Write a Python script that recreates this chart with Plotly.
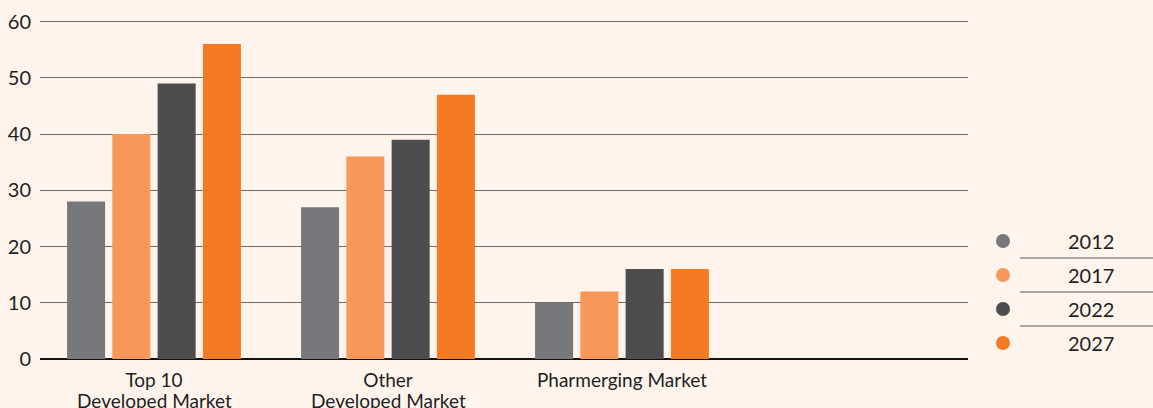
import plotly.graph_objects as go

categories = ["Top 10", "Other", "Pharmerging Market", " "]
subtitles = ["Developed Market", "Developed Market", "", ""]
years = ["2012", "2017", "2022", "2027"]
values = {
    "2012": [28, 27, 10],
    "2017": [40, 36, 12],
    "2022": [49, 39, 16],
    "2027": [56, 47, 16],
}
colors = ["#77787B", "#F79858", "#4D4D4F", "#F47B23"]
y_ticks = [0, 10, 20, 30, 40, 50, 60]

BG = "#FEF4EC"
FONT = "Lato, Roboto, sans-serif"
TXT = "#1e1e1e"
W, H = 1153, 408
L, R, T, B = 40, W - 968, 16, 49
PW, PH = W - L - R, H - T - B
CAT_PX = 234
x0 = -0.5 + 3 / CAT_PX

fig = go.Figure()
for yr, col in zip(years, colors):
    fig.add_trace(go.Bar(x=categories[:3], y=values[yr], name=yr,
                         marker=dict(color=col, line=dict(width=0)),
                         showlegend=False))

fig.update_layout(
    width=W, height=H,
    paper_bgcolor=BG, plot_bgcolor=BG,
    margin=dict(l=L, r=R, t=T, b=B, autoexpand=False),
    barmode="group", bargap=0.226, bargroupgap=0.16,
    font=dict(family=FONT, color=TXT),
    xaxis=dict(categoryorder="array", categoryarray=categories,
               range=[x0, x0 + PW / CAT_PX], showgrid=False, ticks="",
               tickfont=dict(size=19, color=TXT), showline=False,
               automargin=False, ticklabelstandoff=8),
    yaxis=dict(range=[0, 61], tickvals=y_ticks, showgrid=True,
               gridcolor="#6f6a68", gridwidth=1, zeroline=True,
               zerolinecolor="#111111", zerolinewidth=2,
               tickfont=dict(size=20, color=TXT), ticks="",
               ticklabelstandoff=8, layer="below traces", automargin=False),
)

def px_to_paper_x(px):
    return (px - L) / PW

def px_to_paper_y(py):
    return (H - py - B) / PH

# second line of category labels
for cat, sub in zip(categories, subtitles):
    if sub:
        fig.add_annotation(xref="x", yref="paper", x=cat, y=px_to_paper_y(400),
                           text=sub, showarrow=False, xanchor="center", yanchor="middle",
                           font=dict(size=19, color=TXT, family=FONT))

# custom legend
row_y = [241, 275, 309, 343]
for i, (yr, col) in enumerate(zip(years, colors)):
    fig.add_shape(type="circle", xref="paper", yref="paper",
                  x0=px_to_paper_x(996), x1=px_to_paper_x(1010),
                  y0=px_to_paper_y(row_y[i] + 7), y1=px_to_paper_y(row_y[i] - 7),
                  fillcolor=col, line=dict(width=0))
    fig.add_annotation(xref="paper", yref="paper",
                       x=px_to_paper_x(1091), y=px_to_paper_y(row_y[i]),
                       text=yr, showarrow=False, xanchor="center", yanchor="middle",
                       font=dict(size=20, color=TXT, family=FONT))
    if i < 3:
        ly = px_to_paper_y(row_y[i] + 17)
        fig.add_shape(type="line", xref="paper", yref="paper",
                      x0=px_to_paper_x(1020), x1=px_to_paper_x(1153), y0=ly, y1=ly,
                      line=dict(color="#555555", width=1))

fig.write_html("out.html", config={"displayModeBar": False},
               post_script="document.body.style.margin='0';document.body.style.background='%s';" % BG)
